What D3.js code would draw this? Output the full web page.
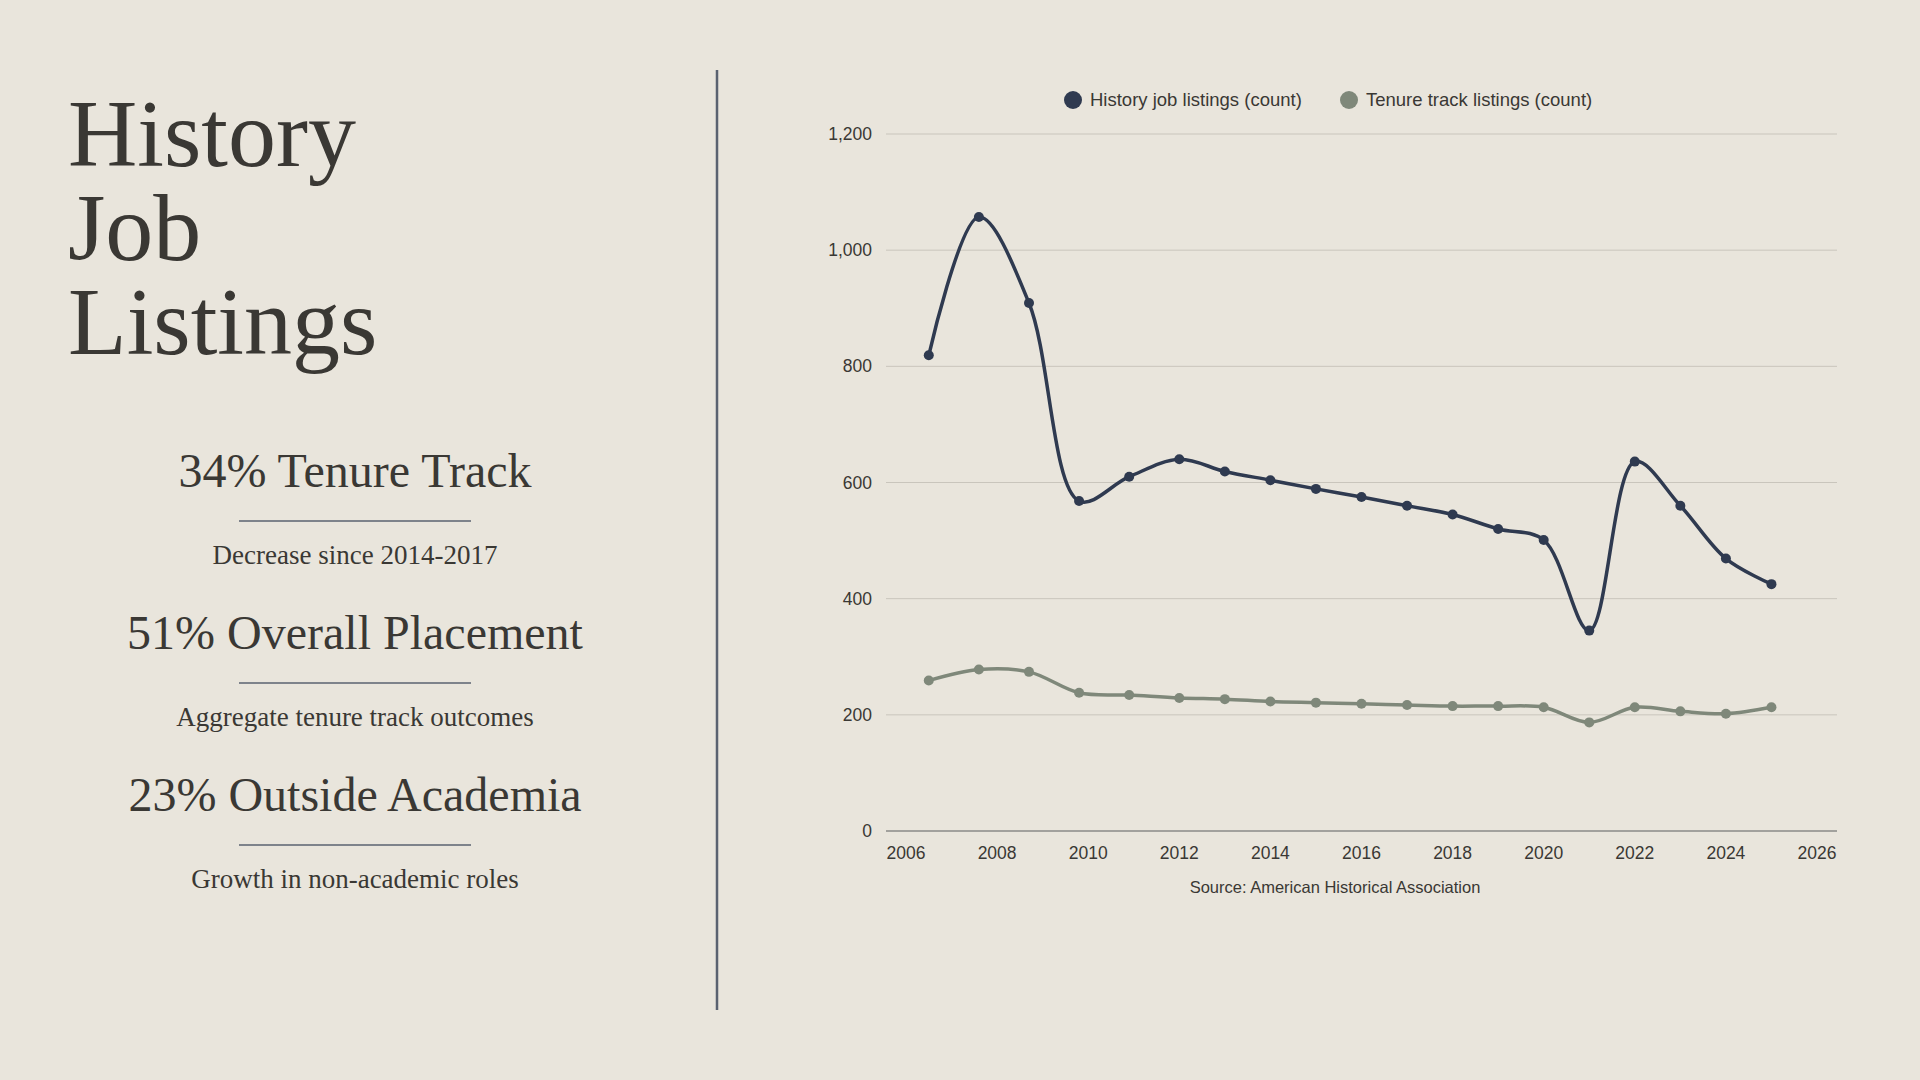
<!DOCTYPE html>
<html><head><meta charset="utf-8">
<script src="https://cdn.jsdelivr.net/npm/d3@7"></script>
<style>body{margin:0;background:#e9e5dc}</style></head>
<body><svg id="c" width="1920" height="1080"></svg>
<script>
const years = [2006.5, 2007.6, 2008.7, 2009.8, 2010.9, 2012, 2013, 2014, 2015, 2016, 2017, 2018, 2019, 2020, 2021, 2022, 2023, 2024, 2025];
const historyJobs = [819, 1057, 909, 568, 610, 640, 619, 604, 589, 575, 560, 545, 520, 501, 345, 636, 560, 469, 425];
const tenureJobs = [259, 278, 274, 238, 234, 229, 227, 223, 221, 219, 217, 215, 215, 213, 187, 213, 206, 202, 213];
const xTicks = [2006, 2008, 2010, 2012, 2014, 2016, 2018, 2020, 2022, 2024, 2026];
const yTicks = [0, 200, 400, 600, 800, 1000, 1200];
const stats = [
  ["34% Tenure Track", "Decrease since 2014-2017"],
  ["51% Overall Placement", "Aggregate tenure track outcomes"],
  ["23% Outside Academia", "Growth in non-academic roles"]
];
const series = [
  { name: "History job listings (count)", values: historyJobs, color: "#2f3a50" },
  { name: "Tenure track listings (count)", values: tenureJobs, color: "#7f887a" }
];

const svg = d3.select("#c");
const serif = "'Liberation Serif', 'DejaVu Serif', serif";
const sans = "'Liberation Sans', Arial, sans-serif";
const ink = "#3a3834";

["History", "Job", "Listings"].forEach((t, i) => {
  svg.append("text").attr("x", 68).attr("y", 166 + i * 94)
    .attr("font-family", serif).attr("font-size", 96).attr("fill", ink).text(t);
});

stats.forEach((s, i) => {
  const y0 = 487 + i * 162;
  svg.append("text").attr("x", 355).attr("y", y0).attr("text-anchor", "middle")
    .attr("font-family", serif).attr("font-size", 48).attr("fill", ink).text(s[0]);
  svg.append("line").attr("x1", 239).attr("x2", 471).attr("y1", y0 + 34).attr("y2", y0 + 34)
    .attr("stroke", "#5a6270").attr("stroke-width", 1.5);
  svg.append("text").attr("x", 355).attr("y", y0 + 77).attr("text-anchor", "middle")
    .attr("font-family", serif).attr("font-size", 27).attr("fill", ink).text(s[1]);
});

svg.append("line").attr("x1", 717).attr("x2", 717).attr("y1", 70).attr("y2", 1010)
  .attr("stroke", "#5a6270").attr("stroke-width", 2.5);

const x = d3.scaleLinear().domain([2006, 2026]).range([906, 1817]);
const y = d3.scaleLinear().domain([0, 1200]).range([831, 134]);
const gx0 = 886, gx1 = 1837;

yTicks.forEach(t => {
  svg.append("line").attr("x1", gx0).attr("x2", gx1).attr("y1", y(t)).attr("y2", y(t))
    .attr("stroke", t === 0 ? "#8a8a88" : "#c9c5bc").attr("stroke-width", t === 0 ? 1.5 : 1);
  svg.append("text").attr("x", 872).attr("y", y(t) + 6).attr("text-anchor", "end")
    .attr("font-family", sans).attr("font-size", 17.5).attr("fill", ink).text(d3.format(",")(t));
});
xTicks.forEach(t => {
  svg.append("text").attr("x", x(t)).attr("y", 859).attr("text-anchor", "middle")
    .attr("font-family", sans).attr("font-size", 17.5).attr("fill", ink).text(t);
});

const line = d3.line().x((d, i) => x(years[i])).y(d => y(d)).curve(d3.curveCatmullRom);
series.forEach(s => {
  svg.append("path").attr("d", line(s.values)).attr("fill", "none")
    .attr("stroke", s.color).attr("stroke-width", 3.5);
  svg.selectAll(null).data(s.values).join("circle")
    .attr("cx", (d, i) => x(years[i])).attr("cy", d => y(d)).attr("r", 5).attr("fill", s.color);
});

const legendX = [1073, 1349];
series.forEach((s, i) => {
  svg.append("circle").attr("cx", legendX[i]).attr("cy", 100).attr("r", 9).attr("fill", s.color);
  svg.append("text").attr("x", legendX[i] + 17).attr("y", 106)
    .attr("font-family", sans).attr("font-size", 18.5).attr("fill", ink).text(s.name);
});

svg.append("text").attr("x", 1335).attr("y", 893).attr("text-anchor", "middle")
  .attr("font-family", sans).attr("font-size", 16.5).attr("fill", ink).text("Source: American Historical Association");
</script></body></html>
